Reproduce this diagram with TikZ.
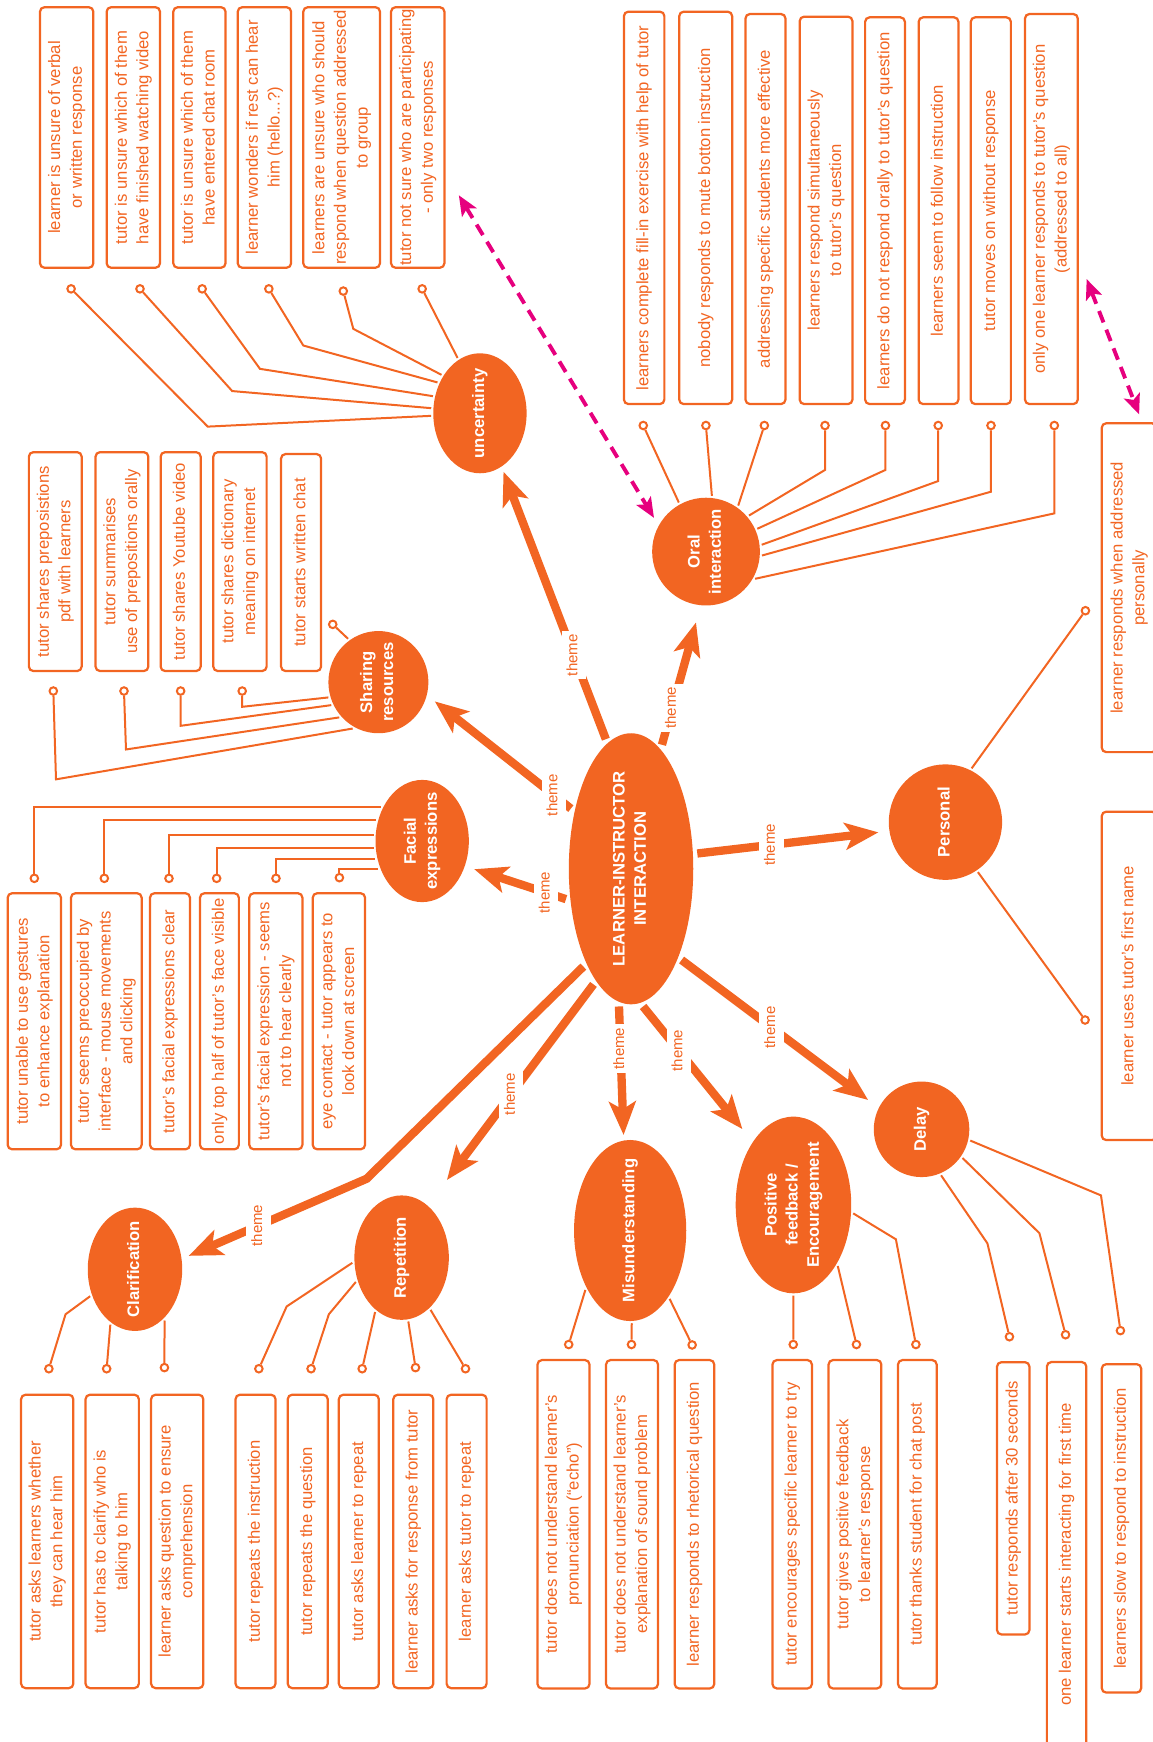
\documentclass[tikz,border=0pt]{standalone}
\usepackage{fontspec}
\setmainfont{Liberation Sans}
\usepackage{graphicx}
\usetikzlibrary{arrows.meta,shapes.geometric}
\definecolor{mmorange}{RGB}{242,101,34}
\definecolor{mmpink}{RGB}{230,0,126}
\newcommand{\vtext}[1]{\rotatebox{90}{\begin{tabular}{@{}c@{}}#1\end{tabular}}}

\begin{document}
\begin{tikzpicture}[x=1pt, y=-1pt,
  catnode/.style={ellipse, fill=mmorange, inner sep=0pt, outer sep=2pt},
  cattext/.style={text=white, font=\fontsize{15}{19}\selectfont\bfseries},
  leafbox/.style={draw=mmorange, line width=2pt, rounded corners=4pt, text=mmorange, inner sep=0pt, font=\fontsize{15}{19.5}\selectfont},
  leafdot/.style={circle, draw=mmorange, line width=1.8pt, fill=white, minimum size=6.8pt, inner sep=0pt},
  twig/.style={draw=mmorange, line width=1.8pt},
  themearrow/.style={draw=mmorange, line width=7.5pt, -{Stealth[length=30pt,width=24pt,inset=7pt]}},
  themelabel/.style={fill=white, text=mmorange, inner sep=3pt, font=\fontsize{13.5}{16}\selectfont},
  crossarrow/.style={draw=mmpink, line width=3.5pt, dash pattern=on 11pt off 7pt, {Stealth[length=18pt,width=15pt,inset=4pt]}-{Stealth[length=18pt,width=15pt,inset=4pt]}}]
  \useasboundingbox (0,0) rectangle (1037,1568);

  % Theme bubbles
  \node[catnode, minimum width=112pt, minimum height=244pt, outer sep=4pt, label={[cattext]center:{\vtext{LEARNER-INSTRUCTOR\\INTERACTION}}}] (lii) at (568,782) {};
  \node[catnode, minimum width=84pt, minimum height=108pt, label={[cattext]center:{\vtext{uncertainty}}}] (unc) at (432,372) {};
  \node[catnode, minimum width=97pt, minimum height=97pt, label={[cattext]center:{\vtext{Oral\\interaction}}}] (oral) at (635.5,496.5) {};
  \node[catnode, minimum width=90pt, minimum height=92pt, label={[cattext]center:{\vtext{Sharing\\resources}}}] (share) at (340.6,614) {};
  \node[catnode, minimum width=84pt, minimum height=110pt, label={[cattext]center:{\vtext{Facial\\expressions}}}] (facial) at (380,757) {};
  \node[catnode, minimum width=102pt, minimum height=104pt, label={[cattext]center:{\vtext{Personal}}}] (personal) at (851,740) {};
  \node[catnode, minimum width=86pt, minimum height=86pt, label={[cattext]center:{\vtext{Delay}}}] (delay) at (829.5,1016.5) {};
  \node[catnode, minimum width=101pt, minimum height=163pt, label={[cattext]center:{\vtext{Misunderstanding}}}] (misund) at (567.2,1107.6) {};
  \node[catnode, minimum width=104pt, minimum height=159pt, label={[cattext]center:{\vtext{Positive\\feedback /\\Encouragement}}}] (positive) at (714.2,1084.6) {};
  \node[catnode, minimum width=85pt, minimum height=112pt, label={[cattext]center:{\vtext{Repetition}}}] (rep) at (361.5,1132) {};
  \node[catnode, minimum width=85pt, minimum height=111pt, label={[cattext]center:{\vtext{Clarification}}}] (clar) at (121.5,1142.5) {};

  % uncertainty
  \node[leafbox, minimum width=48pt, minimum height=234.5pt] (u1) at (60,123.75) {\vtext{learner is unsure of verbal\\or written response}};
  \node[leafbox, minimum width=48pt, minimum height=234.5pt] (u2) at (120,123.75) {\vtext{tutor is unsure which of them\\have finished watching video}};
  \node[leafbox, minimum width=47pt, minimum height=234.5pt] (u3) at (179.5,123.75) {\vtext{tutor is unsure which of them\\have entered chat room}};
  \node[leafbox, minimum width=48pt, minimum height=234.5pt] (u4) at (238,123.75) {\vtext{learner wonders if rest can hear\\him (hello...?)}};
  \node[leafbox, minimum width=69pt, minimum height=234.5pt] (u5) at (307.5,123.75) {\vtext{learners are unsure who should\\respond when question addressed\\to group}};
  \node[leafbox, minimum width=48pt, minimum height=234.5pt] (u6) at (376,123.75) {\vtext{tutor not sure who are participating\\- only two responses}};
  \node[leafdot] (uc1) at (64,260) {};
  \node[leafdot] (uc2) at (126,260) {};
  \node[leafdot] (uc3) at (182,260) {};
  \node[leafdot] (uc4) at (242,260) {};
  \node[leafdot] (uc5) at (309,262) {};
  \node[leafdot] (uc6) at (380,260) {};
  \draw[twig] (unc.183) -- (187,384) -- (uc1);
  \draw[twig] (unc.174) -- (209,352) -- (uc2);
  \draw[twig] (unc.160) -- (234,332) -- (uc3);
  \draw[twig] (unc.144) -- (273,311) -- (uc4);
  \draw[twig] (unc.135) -- (318,296) -- (uc5);
  \draw[twig] (unc.112) -- (uc6);

  % Oral interaction
  \node[leafbox, minimum width=36.4pt, minimum height=353.2pt] (o1) at (579.8,187.1) {\vtext{learners complete fill-in exercise with help of tutor}};
  \node[leafbox, minimum width=47.6pt, minimum height=353.2pt] (o2) at (635.2,187.1) {\vtext{nobody responds to mute botton instruction}};
  \node[leafbox, minimum width=36pt, minimum height=351.1pt] (o3) at (689,188.15) {\vtext{addressing specific students more effective}};
  \node[leafbox, minimum width=47.5pt, minimum height=348.7pt] (o4) at (743.55,189.35) {\vtext{learners respond simultaneously\\to tutor's question}};
  \node[leafbox, minimum width=35.8pt, minimum height=348.1pt] (o5) at (796.6,189.65) {\vtext{learners do not respond orally to tutor's question}};
  \node[leafbox, minimum width=35.8pt, minimum height=348.1pt] (o6) at (844.8,189.65) {\vtext{learners seem to follow instruction}};
  \node[leafbox, minimum width=36.1pt, minimum height=348.1pt] (o7) at (891.85,189.65) {\vtext{tutor moves on without response}};
  \node[leafbox, minimum width=47.5pt, minimum height=351.1pt] (o8) at (946.35,188.15) {\vtext{only one learner responds to tutor's question\\(addressed to all)}};
  \node[leafdot] (oc1) at (579,383) {};
  \node[leafdot] (oc2) at (635.4,383) {};
  \node[leafdot] (oc3) at (688,383) {};
  \node[leafdot] (oc4) at (742.6,383) {};
  \node[leafdot] (oc5) at (797,383) {};
  \node[leafdot] (oc6) at (844.5,383) {};
  \node[leafdot] (oc7) at (892,383) {};
  \node[leafdot] (oc8) at (949,383) {};
  \draw[twig] (oral.119) -- (oc1);
  \draw[twig] (oral.84) -- (oc2);
  \draw[twig] (oral.55) -- (oc3);
  \draw[twig] (oral.40) -- (742.6,423) -- (oc4);
  \draw[twig] (oral.24) -- (797,423) -- (oc5);
  \draw[twig] (oral.7) -- (844.5,433) -- (oc6);
  \draw[twig] (oral.-4) -- (892,442.6) -- (oc7);
  \draw[twig] (oral.-29) -- (949,462.1) -- (oc8);

  % Sharing resources
  \node[leafbox, minimum width=47.5pt, minimum height=197pt] (s1) at (49.75,505.5) {\vtext{tutor shares preposistions\\pdf with learners}};
  \node[leafbox, minimum width=47.5pt, minimum height=197pt] (s2) at (109.75,505.5) {\vtext{tutor summarises\\use of prepositions orally}};
  \node[leafbox, minimum width=36pt, minimum height=197pt] (s3) at (162.6,505.5) {\vtext{tutor shares Youtube video}};
  \node[leafbox, minimum width=48pt, minimum height=197pt] (s4) at (216,505.5) {\vtext{tutor shares dictionary\\meaning on internet}};
  \node[leafbox, minimum width=36pt, minimum height=195.3pt] (s5) at (271,506.35) {\vtext{tutor starts written chat}};
  \node[leafdot] (sc1) at (48,622) {};
  \node[leafdot] (sc2) at (111.6,622) {};
  \node[leafdot] (sc3) at (162.6,622) {};
  \node[leafdot] (sc4) at (218,622) {};
  \node[leafdot] (sc5) at (299.5,562) {};
  \draw[twig] (share.241) -- (50.4,701.5) -- (sc1);
  \draw[twig] (share.222) -- (113.4,674.6) -- (sc2);
  \draw[twig] (share.206) -- (162.6,653.3) -- (sc3);
  \draw[twig] (share.197) -- (218,636.2) -- (sc4);
  \draw[twig] (share.125) -- (sc5);

  % Facial expressions
  \node[leafbox, minimum width=48pt, minimum height=230.5pt] (f1) at (30.9,919.25) {\vtext{tutor unable to use gestures\\to enhance explanation}};
  \node[leafbox, minimum width=63.6pt, minimum height=230.5pt] (f2) at (95.7,919.25) {\vtext{tutor seems preoccupied by\\interface - mouse movements\\and clicking}};
  \node[leafbox, minimum width=36pt, minimum height=230.5pt] (f3) at (153,919.25) {\vtext{tutor's facial expressions clear}};
  \node[leafbox, minimum width=35pt, minimum height=230.5pt] (f4) at (197.5,919.25) {\vtext{only top half of tutor's face visible}};
  \node[leafbox, minimum width=47.8pt, minimum height=230.5pt] (f5) at (248.3,919.25) {\vtext{tutor's facial expression - seems\\not to hear clearly}};
  \node[leafbox, minimum width=47.1pt, minimum height=230.5pt] (f6) at (305.05,919.25) {\vtext{eye contact - tutor appears to\\look down at screen}};
  \node[leafdot] (fc1) at (30.9,790.6) {};
  \node[leafdot] (fc2) at (93.9,790.6) {};
  \node[leafdot] (fc3) at (152.1,790.6) {};
  \node[leafdot] (fc4) at (195,790.6) {};
  \node[leafdot] (fc5) at (248.4,790.6) {};
  \node[leafdot] (fc6) at (305.5,790) {};
  \draw[twig] (fc1) |- (facial.140);
  \draw[twig] (fc2) |- (facial.156);
  \draw[twig] (fc3) |- (facial.173);
  \draw[twig] (fc4) |- (facial.188);
  \draw[twig] (fc5) |- (facial.201);
  \draw[twig] (fc6) |- (facial.213);

  % Personal
  \node[leafbox, minimum width=49.3pt, minimum height=296pt] (p1) at (1016.35,529) {\vtext{learner responds when addressed\\personally}};
  \node[leafbox, minimum width=49.3pt, minimum height=295.6pt] (p2) at (1016.35,878.4) {\vtext{learner uses tutor's first name}};
  \node[leafdot] (pc1) at (977,549.7) {};
  \node[leafdot] (pc2) at (976.7,918.1) {};
  \draw[twig] (personal.64) -- (pc1);
  \draw[twig] (personal.-57) -- (pc2);

  % Delay
  \node[leafbox, minimum width=29.2pt, minimum height=245.1pt] (d1) at (912,1348.65) {\vtext{tutor responds after 30 seconds}};
  \node[leafbox, minimum width=35.5pt, minimum height=346pt] (d2) at (960.05,1399) {\vtext{one learner starts interacting for first time}};
  \node[leafbox, minimum width=35.5pt, minimum height=295.6pt] (d3) at (1009.45,1375.7) {\vtext{learners slow to respond to instruction}};
  \node[leafdot] (dc1) at (908.6,1203.2) {};
  \node[leafdot] (dc2) at (959.1,1201.4) {};
  \node[leafdot] (dc3) at (1008.5,1197.7) {};
  \draw[twig] (delay.-67) -- (888.8,1119.2) -- (dc1);
  \draw[twig] (delay.-35) -- (935.6,1110) -- (dc2);
  \draw[twig] (delay.-13) -- (991,1076) -- (dc3);

  % Misunderstanding
  \node[leafbox, minimum width=46.8pt, minimum height=295.6pt] (m1) at (507.2,1372) {\vtext{tutor does not understand learner's\\pronunciation (``echo'')}};
  \node[leafbox, minimum width=46.8pt, minimum height=295.6pt] (m2) at (568.9,1372) {\vtext{tutor does not understand learner's\\explanation of sound problem}};
  \node[leafbox, minimum width=35.6pt, minimum height=295.6pt] (m3) at (625.1,1372) {\vtext{learner responds to rhetorical question}};
  \node[leafdot] (mc1) at (511.9,1210.2) {};
  \node[leafdot] (mc2) at (568.4,1210.2) {};
  \node[leafdot] (mc3) at (623,1210.6) {};
  \draw[twig] (misund.233) -- (mc1);
  \draw[twig] (misund.271) -- (mc2);
  \draw[twig] (misund.300) -- (mc3);

  % Positive feedback / Encouragement
  \node[leafbox, minimum width=35.5pt, minimum height=295.6pt] (e1) at (713.05,1372) {\vtext{tutor encourages specific learner to try}};
  \node[leafbox, minimum width=47.5pt, minimum height=295.6pt] (e2) at (769.55,1372) {\vtext{tutor gives positive feedback\\to learner's response}};
  \node[leafbox, minimum width=34.8pt, minimum height=295.6pt] (e3) at (825.7,1372) {\vtext{tutor thanks student for chat post}};
  \node[leafdot] (ec1) at (714,1210.2) {};
  \node[leafdot] (ec2) at (770.9,1210.2) {};
  \node[leafdot] (ec3) at (824.4,1210.2) {};
  \draw[twig] (positive.270) -- (ec1);
  \draw[twig] (positive.306) -- (ec2);
  \draw[twig] (positive.352) -- (806.4,1115.5) -- (ec3);

  % Clarification
  \node[leafbox, minimum width=47pt, minimum height=264.1pt] (c1) at (42.5,1387.45) {\vtext{tutor asks learners whether\\they can hear him}};
  \node[leafbox, minimum width=48pt, minimum height=264.1pt] (c2) at (101,1387.45) {\vtext{tutor has to clarify who is\\talking to him}};
  \node[leafbox, minimum width=47pt, minimum height=264.1pt] (c3) at (159.5,1387.45) {\vtext{learner asks question to ensure\\comprehension}};
  \node[leafdot] (cc1) at (44,1232) {};
  \node[leafdot] (cc2) at (96,1232) {};
  \node[leafdot] (cc3) at (148,1231) {};
  \draw[twig] (clar.211) -- (59,1183) -- (cc1);
  \draw[twig] (clar.246) -- (cc2);
  \draw[twig] (clar.300) -- (cc3);

  % Repetition
  \node[leafbox, minimum width=36pt, minimum height=264.1pt] (r1) at (230,1387.45) {\vtext{tutor repeats the instruction}};
  \node[leafbox, minimum width=36pt, minimum height=264.1pt] (r2) at (277,1387.45) {\vtext{tutor repeats the question}};
  \node[leafbox, minimum width=36pt, minimum height=264.1pt] (r3) at (323,1387.45) {\vtext{tutor asks learner to repeat}};
  \node[leafbox, minimum width=36pt, minimum height=264.1pt] (r4) at (372,1387.45) {\vtext{learner asks for response from tutor}};
  \node[leafbox, minimum width=36pt, minimum height=264.1pt] (r5) at (420,1387.45) {\vtext{learner asks tutor to repeat}};
  \node[leafdot] (rc1) at (233,1232) {};
  \node[leafdot] (rc2) at (280,1232) {};
  \node[leafdot] (rc3) at (326,1232) {};
  \node[leafdot] (rc4) at (374,1231) {};
  \node[leafdot] (rc5) at (419,1232) {};
  \draw[twig] (rep.186) -- (258,1176) -- (rc1);
  \draw[twig] (rep.208) -- (296,1183) -- (rc2);
  \draw[twig] (rep.244) -- (rc3);
  \draw[twig] (rep.276) -- (rc4);
  \draw[twig] (rep.299) -- (rc5);

  % theme arrows
  \draw[themearrow, shorten >=3pt] (lii.101) -- node[themelabel, pos=0.31] {\vtext{theme}} (unc.292);
  \draw[themearrow, shorten >=14pt] (lii.76) -- node[themelabel, pos=0.27] {\vtext{theme}} (oral.264);
  \draw[themearrow, shorten >=7pt] (lii.135) -- node[themelabel, pos=0.12] {\vtext{theme}} (share.344);
  \draw[themearrow, shorten >=7pt] (lii.205) -- node[themelabel, pos=0.2] {\vtext{theme}} (facial.330);
  \draw[themearrow, shorten >=8pt] (lii.13) -- node[themelabel, pos=0.39] {\vtext{theme}} (personal.189);
  \draw[themearrow, shorten >=10pt] (lii.299) -- node[themelabel, pos=0.46] {\vtext{theme}} (delay.153);
  \draw[themearrow, shorten >=13pt] (lii.275) -- node[themelabel, pos=0.33] {\vtext{theme}} (positive.123);
  \draw[themearrow, shorten >=3pt] (lii.265) -- node[themelabel, pos=0.32] {\vtext{theme}} (misund.94);
  \draw[themearrow, shorten >=27pt] (lii.252) -- node[themelabel, pos=0.5] {\vtext{theme}} (rep.63);
  \draw[themearrow, shorten >=5pt] (lii.244) -- (330,1061) -- node[themelabel, pos=0.59] {\vtext{theme}} (clar.13);

  % cross links
  \draw[crossarrow, shorten >=6pt] ([shift={(12,52)}]u6.east) -- (oral.150);
  \draw[crossarrow] ([shift={(7,63)}]o8.east) -- ([shift={(9,-7)}]p1.north);
\end{tikzpicture}
\end{document}
